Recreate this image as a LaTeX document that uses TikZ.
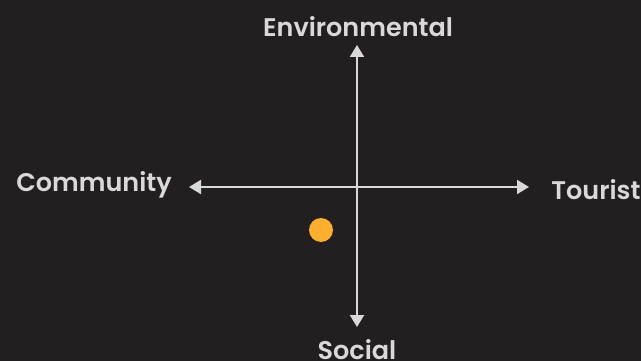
\documentclass[tikz,border=0pt]{standalone}
\usepackage{fontspec}
\setmainfont{Poppins}[BoldFont={Poppins SemiBold}]
\usetikzlibrary{arrows.meta}
\definecolor{bg}{HTML}{231F20}
\definecolor{axis}{HTML}{D9D9D9}
\definecolor{dot}{HTML}{FBAE2F}
\begin{document}
\begin{tikzpicture}[x=1pt,y=-1pt,
  axisline/.style={draw=axis, line width=2pt, {Triangle[length=12pt,width=14pt]}-{Triangle[length=12pt,width=14pt]}},
  axislabel/.style={text=axis, font=\fontsize{25.5}{29}\selectfont\bfseries, inner sep=0pt}]
  \fill[bg] (0,0) rectangle (641,361);
  \useasboundingbox (0,0) rectangle (641,361);
  % axis end points
  \coordinate (top) at (357,45);
  \coordinate (bottom) at (357,327);
  \coordinate (left) at (189,187);
  \coordinate (right) at (529,187);
  \draw[axisline] (top) -- (bottom);
  \draw[axisline] (left) -- (right);
  % axis labels
  \node[axislabel] (env) at (358,27) {Environmental};
  \node[axislabel] (com) at (94,185) {Community};
  \node[axislabel] (tou) at (596,190) {Tourist};
  \node[axislabel] (soc) at (357,350) {Social};
  % position marker
  \node[circle, fill=dot, minimum size=24pt, inner sep=0pt] (pt) at (321,230) {};
\end{tikzpicture}
\end{document}
